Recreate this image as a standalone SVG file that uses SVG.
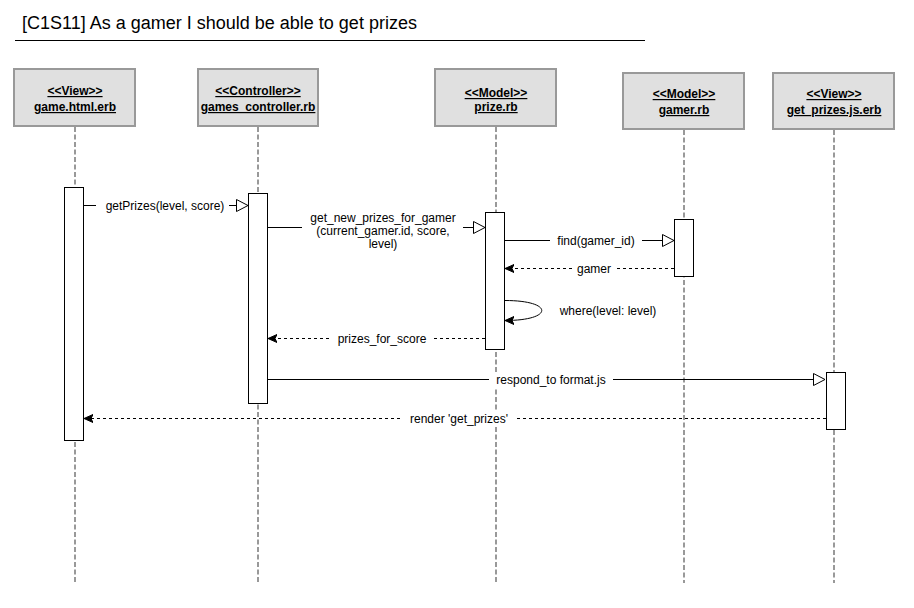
<svg xmlns="http://www.w3.org/2000/svg" width="914" height="608" viewBox="0 0 914 608">
<style>
text{font-family:"Liberation Sans",Arial,sans-serif;fill:#000}
.title{font-size:18px}
.hdr{fill:#e0e0e0;stroke:#999;stroke-width:2}
.hdrt{font-size:12px;font-weight:bold;text-anchor:middle;text-decoration:underline}
.life{stroke:#999;stroke-width:2;stroke-dasharray:5 2.5;fill:none}
.bar{fill:#fff;stroke:#000;stroke-width:1}
.msg{stroke:#000;stroke-width:1;fill:none}
.ret{stroke:#000;stroke-width:1;fill:none;stroke-dasharray:3 3}
.lbl{font-size:12px;text-anchor:middle}
.bg{fill:#fff}
</style>
<defs>
<marker id="open" markerWidth="14" markerHeight="14" refX="12" refY="7" orient="auto" markerUnits="userSpaceOnUse">
<path d="M0.5,1 L12,7 L0.5,13 Z" fill="#fff" stroke="#000" stroke-width="1"/>
</marker>
<marker id="fill" markerWidth="10" markerHeight="10" refX="9" refY="5" orient="auto" markerUnits="userSpaceOnUse">
<path d="M0,1 L9,5 L0,9 L2,5 Z" fill="#000" stroke="#000" stroke-width="1"/>
</marker>
</defs>
<rect width="914" height="608" fill="#fff"/>
<text class="title" x="22" y="29">[C1S11] As a gamer I should be able to get prizes</text>
<line x1="15" y1="40.5" x2="645" y2="40.5" stroke="#000" stroke-width="1"/>

<g id="game_html_erb">
<line class="life" x1="75" y1="127" x2="75" y2="583"/>
<rect class="hdr" x="14" y="69" width="121" height="57"/>
<text class="hdrt" x="75" y="95">&lt;&lt;View&gt;&gt;</text>
<text class="hdrt" x="75" y="111">game.html.erb</text>
<rect class="bar" x="64.5" y="187.5" width="19" height="253"/>
</g>
<g id="games_controller_rb">
<line class="life" x1="258" y1="127" x2="258" y2="583"/>
<rect class="hdr" x="198" y="69" width="120" height="57"/>
<text class="hdrt" x="258" y="95">&lt;&lt;Controller&gt;&gt;</text>
<text class="hdrt" x="258" y="111">games_controller.rb</text>
<rect class="bar" x="248.5" y="193.5" width="19" height="210"/>
</g>
<g id="prize_rb">
<line class="life" x1="496" y1="127" x2="496" y2="583"/>
<rect class="hdr" x="435" y="69" width="121" height="57"/>
<text class="hdrt" x="496" y="97">&lt;&lt;Model&gt;&gt;</text>
<text class="hdrt" x="496" y="111">prize.rb</text>
<rect class="bar" x="485.5" y="212.5" width="19" height="137"/>
</g>
<g id="gamer_rb">
<line class="life" x1="684" y1="130" x2="684" y2="583"/>
<rect class="hdr" x="623" y="73" width="121" height="56"/>
<text class="hdrt" x="684" y="98">&lt;&lt;Model&gt;&gt;</text>
<text class="hdrt" x="684" y="114">gamer.rb</text>
<rect class="bar" x="674.5" y="219.5" width="19" height="57"/>
</g>
<g id="get_prizes_js_erb">
<line class="life" x1="834" y1="130" x2="834" y2="583"/>
<rect class="hdr" x="773" y="73" width="121" height="56"/>
<text class="hdrt" x="834" y="98">&lt;&lt;View&gt;&gt;</text>
<text class="hdrt" x="834" y="114">get_prizes.js.erb</text>
<rect class="bar" x="826.5" y="372.5" width="19" height="57"/>
</g>

<g id="connectors">
<line class="msg" x1="84" y1="205.5" x2="248" y2="205.5" marker-end="url(#open)"/>
<rect class="bg" x="96" y="198" width="133" height="15"/>
<text class="lbl" x="165" y="209.5">getPrizes(level, score)</text>

<line class="msg" x1="268" y1="227.5" x2="485" y2="227.5" marker-end="url(#open)"/>
<rect class="bg" x="302" y="208" width="161" height="42"/>
<text class="lbl" x="383" y="221.5">get_new_prizes_for_gamer</text>
<text class="lbl" x="383" y="234.5">(current_gamer.id, score,</text>
<text class="lbl" x="383" y="247.5">level)</text>

<line class="msg" x1="505" y1="240.5" x2="674" y2="240.5" marker-end="url(#open)"/>
<rect class="bg" x="550" y="233" width="92" height="15"/>
<text class="lbl" x="596" y="244.5">find(gamer_id)</text>

<line class="ret" x1="674" y1="268.5" x2="505" y2="268.5" marker-end="url(#fill)"/>
<rect class="bg" x="572" y="261" width="44" height="15"/>
<text class="lbl" x="594" y="272.5">gamer</text>

<path class="msg" d="M505,300.5 C554,300.5 554,320.5 505,320.5" marker-end="url(#fill)"/>
<text class="lbl" x="608" y="314.5">where(level: level)</text>

<line class="ret" x1="485" y1="338.5" x2="268" y2="338.5" marker-end="url(#fill)"/>
<rect class="bg" x="331" y="331" width="102" height="15"/>
<text class="lbl" x="382" y="342.5">prizes_for_score</text>

<line class="msg" x1="268" y1="379.5" x2="825" y2="379.5" marker-end="url(#open)"/>
<rect class="bg" x="489" y="372" width="124" height="15"/>
<text class="lbl" x="551" y="383.5">respond_to format.js</text>

<line class="ret" x1="826" y1="418.5" x2="84" y2="418.5" marker-end="url(#fill)"/>
<rect class="bg" x="403" y="411" width="112" height="15"/>
<text class="lbl" x="459" y="422.5">render 'get_prizes'</text>
</g>
</svg>
